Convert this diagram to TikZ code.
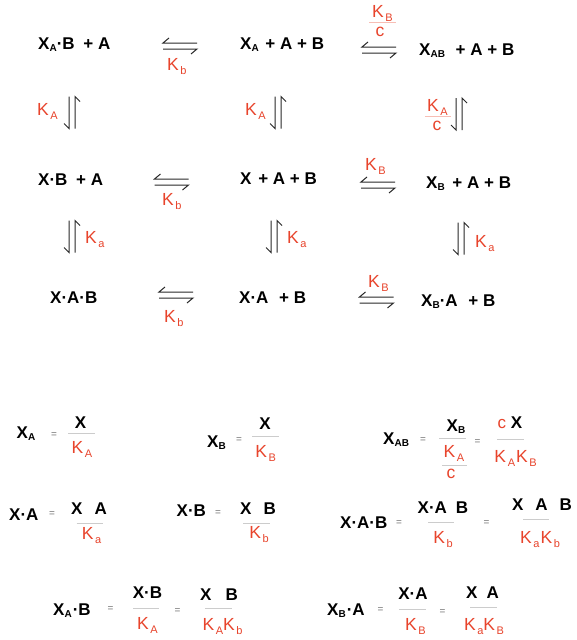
\documentclass[tikz,border=0pt]{standalone}
\usepackage{fontspec}
\setmainfont{Liberation Sans}
\definecolor{kred}{RGB}{232,68,44}
\definecolor{arrgray}{RGB}{40,40,40}
\newcommand\bsub[1]{\raisebox{-0.32ex}{\fontsize{10}{10}\selectfont\bfseries #1}}
\newcommand\rsub[1]{\hspace{1.6pt}\raisebox{-0.45ex}{\fontsize{11}{11}\selectfont #1}}
\begin{document}
\begin{tikzpicture}[x=1pt,y=-1pt,
  blk/.style={inner sep=0pt, font=\fontsize{17}{20}\selectfont\bfseries, text=black},
  kl/.style={inner sep=0pt, font=\fontsize{17.5}{20}\selectfont, text=kred},
  eqs/.style={inner sep=0pt, font=\fontsize{10}{10}\selectfont, text=black!55},
  fbar/.style={draw=black!20, line width=0.8pt},
  rbar/.style={draw=kred!35, line width=0.8pt},
  arr/.style={draw=arrgray, line width=1pt, line cap=butt, line join=miter},
  eqh/.pic={\draw[arr] (-11,-8) -- (-17,-3) -- (17,-3);
            \draw[arr] (-17,3) -- (17,3) -- (11,8);},
  eqv/.pic={\draw[arr] (-3,-16) -- (-3,16) -- (-8,11);
            \draw[arr] (8,-11) -- (3,-16) -- (3,16);}
]
\useasboundingbox[fill=white] (0,0) rectangle (577,640);

% ---------- reaction scheme ----------
\node[blk,anchor=base west] (r1a) at (38,49) {X\bsub{A}·B\hspace{4pt} + A};
\node[blk,anchor=base west] (r1b) at (240,49) {X\bsub{A}\hspace{2pt} + A + B};
\node[blk,anchor=base west] (r1c) at (419,55) {X\bsub{AB}\hspace{6pt} + A + B};
\node[blk,anchor=base west] (r2a) at (38,185) {X·B\hspace{4pt} + A};
\node[blk,anchor=base west] (r2b) at (240,184) {X\hspace{2pt} + A + B};
\node[blk,anchor=base west] (r2c) at (426,188) {X\bsub{B}\hspace{3pt} + A + B};
\node[blk,anchor=base west] (r3a) at (50,303) {X·A·B};
\node[blk,anchor=base west] (r3b) at (239,303) {X·A\hspace{6pt} + B};
\node[blk,anchor=base west] (r3c) at (421,306) {X\bsub{B}·A\hspace{6pt} + B};

\pic (h1) at (180,46) {eqh};
\pic (h2) at (379,50) {eqh};
\pic (h3) at (171.5,182) {eqh};
\pic (h4) at (378,185) {eqh};
\pic (h5) at (176,295) {eqh};
\pic (h6) at (376.5,300) {eqh};

\pic (v1) at (72,112.5) {eqv};
\pic (v2) at (278,112.5) {eqv};
\pic (v3) at (459,114) {eqv};
\pic (v4) at (72,236.5) {eqv};
\pic (v5) at (274,236.5) {eqv};
\pic (v6) at (461,238.5) {eqv};

\node[kl,anchor=base west] (kb1) at (167,70) {K\rsub{b}};
\node[kl,anchor=base west] (kB1) at (372,17) {K\rsub{B}};
\draw[rbar] (369,22.5) -- (396,22.5);
\node[kl,anchor=base] (c1) at (380,36) {c};
\node[kl,anchor=base west] (kA1) at (37,115) {K\rsub{A}};
\node[kl,anchor=base west] (kA2) at (245,115) {K\rsub{A}};
\node[kl,anchor=base west] (kA3) at (427,111) {K\rsub{A}};
\draw[rbar] (425,116.5) -- (451,116.5);
\node[kl,anchor=base] (c2) at (437,130) {c};
\node[kl,anchor=base west] (kb2) at (162,205) {K\rsub{b}};
\node[kl,anchor=base west] (kB2) at (365,170) {K\rsub{B}};
\node[kl,anchor=base west] (ka1) at (85,243) {K\rsub{a}};
\node[kl,anchor=base west] (ka2) at (287,243) {K\rsub{a}};
\node[kl,anchor=base west] (ka3) at (475,247) {K\rsub{a}};
\node[kl,anchor=base west] (kb3) at (164,322) {K\rsub{b}};
\node[kl,anchor=base west] (kB3) at (368,287) {K\rsub{B}};

% ---------- equations, row a ----------
\node[blk,anchor=base west] (eXA) at (16.5,438) {X\bsub{A}};
\node[eqs] (q1) at (54,435) {=};
\node[blk,anchor=base] (n1) at (80.5,428) {X};
\draw[fbar] (68,433) -- (95,433);
\node[kl,anchor=base] (d1) at (82,453) {K\rsub{A}};

\node[blk,anchor=base west] (eXB) at (207,447) {X\bsub{B}};
\node[eqs] (q2) at (239,440) {=};
\node[blk,anchor=base] (n2) at (265,429.6) {X};
\draw[fbar] (252,436.5) -- (279,436.5);
\node[kl,anchor=base] (d2) at (265.6,457) {K\rsub{B}};

\node[blk,anchor=base west] (eXAB) at (383,444) {X\bsub{AB}};
\node[eqs] (q3) at (423,440) {=};
\node[blk,anchor=base] (n3) at (456,431) {X\bsub{B}};
\draw[fbar] (439,438) -- (466,438);
\node[kl,anchor=base] (d3) at (454,457) {K\rsub{A}};
\draw[fbar] (442,465) -- (467,465);
\node[kl,anchor=base] (c3) at (451,478) {c};
\node[eqs] (q4) at (477.5,442) {=};
\node[blk,anchor=base] (n4) at (510,428.6) {{\color{kred}\mdseries c} X};
\draw[fbar] (497,439) -- (524,439);
\node[kl,anchor=base] (d4) at (515.6,462) {K\rsub{A}\hspace{1pt}K\rsub{B}};

% ---------- equations, row b ----------
\node[blk,anchor=base west] (eXdA) at (9,520) {X·A};
\node[eqs] (q5) at (52,514) {=};
\node[blk,anchor=base] (n5) at (89,514) {X\hspace{12pt}A};
\draw[fbar] (76.5,523) -- (103,523);
\node[kl,anchor=base] (d5) at (91.5,539) {K\rsub{a}};

\node[blk,anchor=base west] (eXdB) at (176.5,516) {X·B};
\node[eqs] (q6) at (218,513) {=};
\node[blk,anchor=base] (n6) at (258,514) {X\hspace{12pt}B};
\draw[fbar] (243,523) -- (270,523);
\node[kl,anchor=base] (d6) at (259,538) {K\rsub{b}};

\node[blk,anchor=base west] (eXAB2) at (340,528) {X·A·B};
\node[eqs] (q7) at (399,523) {=};
\node[blk,anchor=base] (n7) at (443,513) {X·A\hspace{9pt}B};
\draw[fbar] (428,522) -- (454,522);
\node[kl,anchor=base] (d7) at (443,543) {K\rsub{b}};
\node[eqs] (q8) at (486.5,523) {=};
\node[blk,anchor=base] (n8) at (542,510) {X\hspace{12pt}A\hspace{12pt}B};
\draw[fbar] (523,519) -- (549,519);
\node[kl,anchor=base] (d8) at (540,543) {K\rsub{a}\hspace{1pt}K\rsub{b}};

% ---------- equations, row c ----------
\node[blk,anchor=base west] (eXAdB) at (53,615) {X\bsub{A}\hspace{1pt}·B};
\node[eqs] (q9) at (110.5,609) {=};
\node[blk,anchor=base] (n9) at (147.5,598) {X·B};
\draw[fbar] (133,608) -- (159,608);
\node[kl,anchor=base] (d9) at (147.5,629) {K\rsub{A}};
\node[eqs] (q10) at (177.5,611) {=};
\node[blk,anchor=base] (n10) at (219,600) {X\hspace{14pt}B};
\draw[fbar] (205,608) -- (232,608);
\node[kl,anchor=base] (d10) at (222.5,630) {K\rsub{A}K\rsub{b}};

\node[blk,anchor=base west] (eXBdA) at (327,615) {X\bsub{B}\hspace{1pt}·A};
\node[eqs] (q11) at (380.5,610) {=};
\node[blk,anchor=base] (n11) at (413,599) {X·A};
\draw[fbar] (399,609) -- (426,609);
\node[kl,anchor=base] (d11) at (415.5,630) {K\rsub{B}};
\node[eqs] (q12) at (442.5,612) {=};
\node[blk,anchor=base] (n12) at (482.5,598) {X\hspace{9pt}A};
\draw[fbar] (470,607) -- (497,607);
\node[kl,anchor=base] (d12) at (484,630) {K\rsub{a}K\rsub{B}};
\end{tikzpicture}
\end{document}
